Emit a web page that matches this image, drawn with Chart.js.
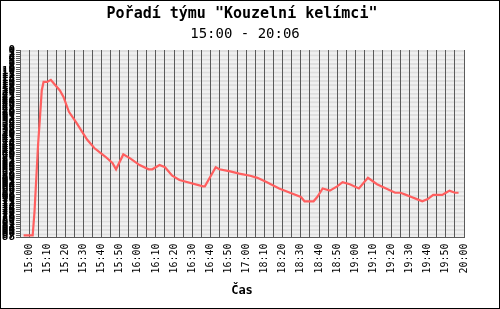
<!DOCTYPE html>
<html>
<head>
<meta charset="utf-8">
<script src="https://cdn.jsdelivr.net/npm/chart.js@4.4.1/dist/chart.umd.min.js"></script>
<style>
  html, body { margin: 0; padding: 0; background: #fff; }
  #wrap { width: 500px; height: 309px; border: 1px solid #000; box-sizing: border-box; position: relative; }
</style>
</head>
<body>
<div id="wrap"><canvas id="rankChart"></canvas></div>
<script>
// tick labels along the bottom (one every 10 samples)
const xLabels = ['15:00','15:10','15:20','15:30','15:40','15:50','16:00','16:10','16:20','16:30','16:40','16:50','17:00',
  '18:10','18:20','18:30','18:40','18:50','19:00','19:10','19:20','19:30','19:40','19:50','20:00'];

// sample index of each reading and the team's rank at that moment
const samples = [-3, 2, 3, 4, 5, 6, 7, 8, 10, 12, 13, 15, 17, 19, 22, 26, 32, 36, 42, 46, 48, 52, 56, 61,
  66, 68, 72, 75, 79, 83, 96, 97, 103, 105, 111, 116, 122, 126, 131, 138, 144, 150, 152, 157, 159, 162,
  166, 170, 173, 177, 182, 187, 192, 197, 202, 205, 208, 211, 214, 217, 220, 223, 228, 230, 232, 235, 237];
const ranks = [87, 87, 76, 60, 44, 32, 19, 15, 15, 14, 15, 17, 19, 22, 29, 34, 42, 46, 50, 53, 56, 49, 51, 54,
  56, 56, 54, 55, 59, 61, 64, 64, 55, 56, 57, 58, 59, 60, 62, 65, 67, 69, 71, 71, 69, 65,
  66, 64, 62, 63, 65, 60, 63, 65, 67, 67, 68, 69, 70, 71, 70, 68, 68, 67, 66, 67, 67];

const maxRank = 88;
const titleText = 'Pořadí týmu "Kouzelní kelímci"';
const subtitleText = '15:00 - 20:06';
const mono = 'DejaVu Sans Mono';

// alternating horizontal bands, one per rank
const bands = {
  id: 'bands',
  beforeDraw(chart) {
    const { ctx, chartArea, scales } = chart;
    const ticks = scales.y.ticks;
    ctx.save();
    for (let i = 0; i < ticks.length - 1; i++) {
      const y1 = scales.y.getPixelForValue(ticks[i].value);
      const y2 = scales.y.getPixelForValue(ticks[i + 1].value);
      ctx.fillStyle = i % 2 ? '#dedede' : '#f0f0f0';
      ctx.fillRect(chartArea.left, Math.min(y1, y2), chartArea.right - chartArea.left, Math.abs(y2 - y1));
    }
    ctx.restore();
  }
};

// title + subtitle centred over the plot, not over the whole canvas
const titles = {
  id: 'titles',
  afterDraw(chart) {
    const { ctx, chartArea } = chart;
    const cx = (chartArea.left + chartArea.right) / 2;
    ctx.save();
    ctx.fillStyle = '#000';
    ctx.textAlign = 'center';
    ctx.textBaseline = 'middle';
    ctx.font = 'bold 15px "' + mono + '"';
    ctx.fillText(titleText, cx, 13);
    ctx.font = '14px "' + mono + '"';
    ctx.fillText(subtitleText, cx + 3, 33);
    ctx.restore();
  }
};

new Chart(document.getElementById('rankChart'), {
  type: 'line',
  data: {
    datasets: [{
      data: samples.map((x, i) => ({ x: x, y: ranks[i] })),
      borderColor: '#ff5f5f',
      borderWidth: 2.2,
      pointRadius: 0,
      tension: 0,
      fill: false
    }]
  },
  options: {
    responsive: true,
    maintainAspectRatio: false,
    animation: false,
    layout: { padding: { left: 0, right: 35, top: 49, bottom: 10 } },
    plugins: {
      legend: { display: false },
      tooltip: { enabled: false },
      title: { display: false }
    },
    scales: {
      x: {
        type: 'linear',
        min: -5,
        max: 240,
        grid: { color: '#5a5a5a', lineWidth: 1, drawTicks: false },
        border: { display: true, color: '#5a5a5a' },
        ticks: {
          stepSize: 5,
          autoSkip: false,
          minRotation: 90,
          maxRotation: 90,
          padding: 6,
          color: '#000',
          font: { family: mono, size: 10 },
          callback: v => (v >= 0 && v % 10 === 0) ? xLabels[v / 10] : ''
        },
        title: {
          display: true,
          text: 'Čas',
          color: '#000',
          font: { family: mono, size: 12, weight: 'bold' },
          padding: { top: 4, bottom: 0 }
        }
      },
      y: {
        reverse: true,
        min: 0,
        max: maxRank,
        grid: { drawOnChartArea: false, drawTicks: true, tickLength: 4, color: '#5a5a5a' },
        border: { display: true, color: '#5a5a5a' },
        ticks: {
          stepSize: 1,
          autoSkip: false,
          padding: 1,
          color: '#000',
          font: { family: mono, size: 11, weight: 'bold' }
        },
        afterFit: s => { s.width = 19; }
      }
    }
  },
  plugins: [bands, titles]
});
</script>
</body>
</html>
